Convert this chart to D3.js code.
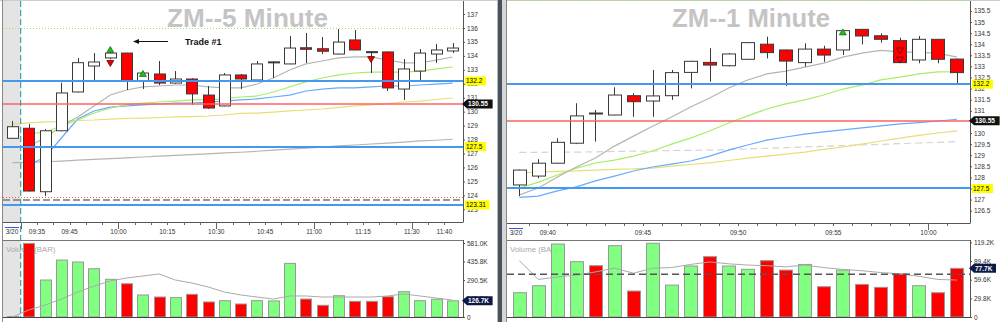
<!DOCTYPE html>
<html>
<head>
<meta charset="utf-8">
<script src="https://cdn.jsdelivr.net/npm/d3@7"></script>
<style>
  body { margin: 0; background: #fff; }
  svg { display: block; font-family: "Liberation Sans", Arial, sans-serif; }
</style>
</head>
<body>
<svg width="1000" height="322"></svg>
<script>
var svg = d3.select("svg");

// ---------- 5 minute data ----------
var leftTimes = ["09:25","09:30","09:35","09:40","09:45","09:50","09:55","10:00","10:05","10:10","10:15","10:20","10:25","10:30",
  "10:35","10:40","10:45","10:50","10:55","11:00","11:05","11:10","11:15","11:20","11:25","11:30","11:35","11:40"];
var leftOpen  = [128.09,128.81,124.26,128.63,131.41,133.27,133.85,134.2,132.2,132.7,132.05,132.34,131.19,130.41,132.63,132.27,133.54,133.42,134.58,134.51,134.13,135.14,134.3,134.28,131.62,132.91,134.13,134.35];
var leftHigh  = [129.33,129.11,128.76,132.08,133.85,134.2,134.3,134.22,132.8,133.63,132.91,132.4,131.84,132.77,132.7,133.63,133.6,135.42,135.64,135.35,135.92,135.85,134.32,134.3,133.77,134.49,134.85,134.92];
var leftLow   = [128.05,124.28,123.95,128.6,131.38,132.13,133.75,131.55,131.62,131.9,132.0,130.48,130.2,130.38,131.62,132.2,132.41,133.4,133.49,134.13,134.1,134.4,132.77,131.48,130.84,132.27,133.49,134.2];
var leftClose = [128.92,124.31,128.63,131.34,133.51,133.56,134.2,132.2,132.77,132.05,132.34,131.27,130.26,132.63,132.34,133.42,133.57,134.56,134.47,134.33,134.99,134.42,134.25,131.7,133.06,134.2,134.42,134.56];
var leftVolume = [3000,578000,290500,447000,432000,379000,296000,261000,173000,157000,152000,178000,118000,128000,102000,128000,126000,421000,141000,92000,167000,123000,123000,159000,199000,128000,139000,126700];
var leftVolAvg = [0,55000,94000,141000,196000,243000,283000,306000,322000,338000,290000,267000,236000,196000,173000,157000,141000,165000,165000,157000,157000,157000,157000,165000,181000,165000,149000,133000];
var leftAvgFast   = [null,127.54,128.11,128.97,129.62,130.41,131.19,131.55,131.77,131.84,131.91,131.91,131.77,131.7,131.7,131.98,132.41,132.99,133.42,133.63,133.85,133.92,133.92,133.7,133.49,133.49,133.7,133.92];
var leftAvgGreen  = [null,128.4,128.54,128.97,129.4,129.9,130.26,130.48,130.62,130.69,130.76,130.84,130.84,130.91,131.05,131.12,131.41,131.77,132.13,132.41,132.63,132.77,132.84,132.84,132.84,132.91,133.06,133.2];
var leftAvgBlue   = [null,126.18,126.75,128.11,129.47,130.05,130.33,130.41,130.48,130.55,130.62,130.62,130.69,130.76,130.84,130.91,131.05,131.19,131.48,131.62,131.7,131.7,131.77,131.84,131.84,131.91,131.98,132.05];
var leftAvgYellow = [129.11,129.19,129.26,129.29,129.37,129.4,129.47,129.51,129.54,129.58,129.62,129.65,129.69,129.76,129.87,129.9,129.97,130.05,130.12,130.19,130.3,130.41,130.48,130.58,130.69,130.76,130.87,130.98];
var leftAvgSlow   = [126.34,126.37,126.41,126.46,126.52,126.58,126.63,126.69,126.75,126.81,126.86,126.92,126.98,127.04,127.09,127.16,127.24,127.31,127.38,127.46,127.54,127.61,127.68,127.75,127.82,127.9,127.95,128.02];
var leftTickLabels = ["09:35","09:45","10:00","10:15","10:30","10:45","11:00","11:15","11:30","11:40"];
var leftPriceTicks = [123,124,125,126,127,128,129,130,131,132,133,134,135,136,137];
var leftVolTicks = [0,145250,290500,435750,581000];
var leftLevels = [136, 132.2, 130.55, 127.5, 123.9, 123.67, 123.31];
var leftLevelKinds = ["target","support","entry","support","stop","stop2","support"];
var leftSignalTimes = ["09:55","09:55","10:05","11:15"];
var leftSignalPrices = [134.42,133.49,132.7,133.77];
var leftSignalKinds = ["buy","sell","buy","sell"];

// ---------- 1 minute data ----------
var rightTimes = ["09:38","09:39","09:40","09:41","09:42","09:43","09:44","09:45","09:46","09:47","09:48","09:49","09:50","09:51",
  "09:52","09:53","09:54","09:55","09:56","09:57","09:58","09:59","10:00","10:01"];
var rightOpen  = [127.66,128.06,128.64,129.54,130.9,130.81,131.68,131.44,131.68,132.73,133.18,133.03,133.32,134.0,133.74,133.17,133.78,133.74,134.67,134.38,134.16,133.29,134.22,133.33];
var rightHigh  = [128.35,128.82,129.76,131.34,131.04,132.06,131.79,132.84,132.84,133.25,133.82,133.6,134.1,134.34,133.76,134.04,133.93,134.62,134.68,134.49,134.29,134.37,134.23,133.35];
var rightLow   = [127.16,127.96,128.62,129.5,129.61,130.8,130.73,130.73,131.49,132.01,132.31,133.0,133.3,133.36,132.12,132.99,133.21,133.51,133.99,134.07,133.15,133.14,133.14,132.16];
var rightClose = [128.33,128.64,129.58,130.77,130.88,131.71,131.41,131.67,132.72,133.23,133.06,133.56,134.07,133.62,133.24,133.78,133.51,134.61,134.37,134.22,133.17,134.22,133.32,132.72];
var rightVolume = [38800,50000,116600,88400,82000,114000,41500,117800,51000,81500,96400,81500,76200,90000,75000,84000,48400,75000,52000,47400,69000,50000,38800,77700];
var rightVolAvg = [90000,60000,64000,67000,72000,78000,70000,78000,79000,84000,88000,85000,83000,82000,80000,83000,79000,76000,74000,71000,69000,65000,60000,59000];
var rightAvgFast   = [127.21,127.52,128.02,128.47,128.87,129.41,129.86,130.3,130.72,131.17,131.58,132.03,132.39,132.66,132.79,132.97,133.15,133.42,133.6,133.72,133.65,133.63,133.6,133.42];
var rightAvgGreen  = [127.52,127.79,128.11,128.42,128.65,128.78,128.96,129.19,129.5,129.77,130.09,130.45,130.77,131.08,131.31,131.49,131.71,131.98,132.16,132.39,132.52,132.66,132.75,132.76];
var rightAvgBlue   = [127.1,127.16,127.39,127.57,127.84,128.06,128.29,128.47,128.6,128.74,128.96,129.23,129.46,129.68,129.82,129.95,130.05,130.14,130.23,130.32,130.41,130.47,130.54,130.62];
var rightAvgYellow = [128.21,128.24,128.27,128.29,128.33,128.36,128.38,128.42,128.51,128.58,128.65,128.76,128.87,128.96,129.05,129.14,129.26,129.37,129.5,129.64,129.77,129.89,130.0,130.1];
var rightAvgDash   = [129.13,129.13,129.14,129.14,129.15,129.17,129.18,129.19,129.21,129.22,129.23,129.26,129.28,129.31,129.34,129.37,129.4,129.43,129.46,129.49,129.52,129.55,129.58,129.61];
var rightTickLabels = ["09:40","09:45","09:50","09:55","10:00"];
var rightPriceTicks = [126.5,127,127.5,128,128.5,129,129.5,130,130.5,131,131.5,132,132.5,133,133.5,134,134.5,135,135.5];
var rightVolTicks = [0,29800,59600,89400,119200];
var rightVolLevel = 68500;
var rightLevels = [136, 132.2, 130.55, 127.5];
var rightLevelKinds = ["target","support","entry","support"];
var rightSignalTimes = ["09:55","09:58","09:58"];
var rightSignalPrices = [134.53,133.72,133.31];
var rightSignalKinds = ["buy","exit","exit"];

var levelStyle = {
  target:  { stroke: "#99dd77", width: 1, dash: "1,2" },
  support: { stroke: "#4499ee", width: 2, dash: null },
  entry:   { stroke: "#ff6060", width: 1.5, dash: null },
  stop:    { stroke: "#ff5555", width: 1, dash: "1,2" },
  stop2:   { stroke: "#777777", width: 1.5, dash: "7,3" }
};

function fmtK(d) { return d === 0 ? "0" : (d / 1000).toFixed(1) + "K"; }
function fmtPrice(d) { return d % 1 === 0 ? String(d) : d.toFixed(1); }

function tag(g, x, y, text, kind) {
  var w = text.length * 3.6 + 3;
  if (kind === "hl") {
    g.append("rect").attr("x", x + 2).attr("y", y - 4.5).attr("width", w).attr("height", 9).attr("fill", "#ffff00");
    g.append("text").attr("x", x + 3).attr("y", y + 2.3).attr("font-size", 6.5).attr("fill", "#000").text(text);
  } else {
    var fill = kind === "vol" ? "#0c1a48" : "#111";
    g.append("path")
      .attr("d", "M" + (x - 1) + "," + y + " L" + (x + 4) + "," + (y - 4.5) + " H" + (x + 5 + w) + " V" + (y + 4.5) + " H" + (x + 4) + " Z")
      .attr("fill", fill);
    g.append("text").attr("x", x + 5).attr("y", y + 2.3).attr("font-size", 6.5).attr("font-weight", "bold")
      .attr("fill", "#fff").text(text);
  }
}

function drawPanel(p) {
  var g = svg.append("g");
  var x = d3.scaleBand().domain(p.times).range(p.band);
  var bw = x.bandwidth();
  var cw = Math.round(bw * 0.68);
  var cx = function (t) { return x(t) + bw / 2; };
  var y = d3.scaleLinear().domain(p.yDomain).range(p.yRange);
  var yv = d3.scaleLinear().domain(p.vDomain).range(p.vRange);

  // clip paths
  var defs = g.append("defs");
  defs.append("clipPath").attr("id", p.id + "pc").append("rect")
    .attr("x", p.x0).attr("y", 0).attr("width", p.x1 - p.x0).attr("height", p.priceBottom);
  defs.append("clipPath").attr("id", p.id + "vc").append("rect")
    .attr("x", p.x0).attr("y", p.volTop).attr("width", p.x1 - p.x0).attr("height", p.volBottom - p.volTop);

  // pre-session shading
  if (p.sessionStart) {
    var sx = x(p.sessionStart);
    g.append("rect").attr("x", p.x0).attr("y", 1).attr("width", sx - p.x0).attr("height", p.priceBottom - 1).attr("fill", "#e4e4e4");
    g.append("rect").attr("x", p.x0).attr("y", p.volTop).attr("width", sx - p.x0).attr("height", p.volBottom - p.volTop).attr("fill", "#e4e4e4");
  }

  // title
  g.append("text").attr("x", p.titleX).attr("y", 27).attr("font-size", 25).attr("font-weight", "bold")
    .attr("fill", "#c4c4c4").attr("textLength", p.titleW).attr("lengthAdjust", "spacingAndGlyphs").text(p.title);

  var pg = g.append("g").attr("clip-path", "url(#" + p.id + "pc)");

  // moving averages
  var line = d3.line().defined(function (d) { return d.v != null; })
    .x(function (d) { return cx(d.t); }).y(function (d) { return y(d.v); });
  p.averages.forEach(function (a) {
    var pts = p.times.map(function (t, i) { return { t: t, v: a.values[i] }; });
    pg.append("path").attr("d", line(pts)).attr("fill", "none")
      .attr("stroke", a.color).attr("stroke-width", 1.2).attr("stroke-dasharray", a.dash || null);
  });

  // candles
  var bars = p.times.map(function (t, i) {
    return { t: t, o: p.open[i], h: p.high[i], l: p.low[i], c: p.close[i], v: p.volume[i] };
  });
  var cg = pg.selectAll(".candle").data(bars).enter().append("g").attr("class", "candle");
  cg.append("line")
    .attr("x1", function (d) { return Math.round(cx(d.t)) + 0.5; })
    .attr("x2", function (d) { return Math.round(cx(d.t)) + 0.5; })
    .attr("y1", function (d) { return y(d.h); })
    .attr("y2", function (d) { return y(d.l); })
    .attr("stroke", "#3a3a3a");
  cg.append("rect")
    .attr("x", function (d) { return Math.round(cx(d.t) - cw / 2) + 0.5; })
    .attr("y", function (d) { return y(Math.max(d.o, d.c)); })
    .attr("width", cw)
    .attr("height", function (d) { return Math.max(1, Math.abs(y(d.o) - y(d.c))); })
    .attr("fill", function (d) { return d.c >= d.o ? "#fff" : "#ff0000"; })
    .attr("stroke", "#3a3a3a");

  // horizontal levels
  p.levels.forEach(function (v, i) {
    var s = levelStyle[p.levelKinds[i]];
    var yy = Math.round(y(v)) + (s.width === 1 ? 0.5 : 0);
    pg.append("line").attr("x1", p.x0).attr("x2", p.x1).attr("y1", yy).attr("y2", yy)
      .attr("stroke", s.stroke).attr("stroke-width", s.width).attr("stroke-dasharray", s.dash);
  });

  // signals
  p.signalTimes.forEach(function (t, i) {
    var sx = cx(t), sy = y(p.signalPrices[i]), k = p.signalKinds[i], s = 3.5;
    var d = k === "buy"
      ? "M" + sx + "," + (sy - s) + " L" + (sx + s) + "," + (sy + s * 0.7) + " L" + (sx - s) + "," + (sy + s * 0.7) + " Z"
      : "M" + (sx - s) + "," + (sy - s * 0.7) + " L" + (sx + s) + "," + (sy - s * 0.7) + " L" + sx + "," + (sy + s) + " Z";
    pg.append("path").attr("d", d)
      .attr("fill", k === "buy" ? "#22bb22" : (k === "sell" ? "#dd0000" : "none"))
      .attr("stroke", k === "buy" ? "#117711" : "#770000").attr("stroke-width", 0.8);
  });

  // session start line
  if (p.sessionStart) {
    g.append("line").attr("x1", x(p.sessionStart)).attr("x2", x(p.sessionStart)).attr("y1", 1).attr("y2", p.volBottom)
      .attr("stroke", "#3aa6a6").attr("stroke-width", 1.2).attr("stroke-dasharray", "6,3");
  }

  // price axis
  var pa = g.append("g").attr("transform", "translate(" + p.x1 + ",0)")
    .call(d3.axisRight(y).tickValues(p.priceTicks).tickSize(2).tickPadding(2).tickFormat(p.priceFormat));
  pa.select(".domain").remove();
  pa.selectAll("text").attr("font-size", 6.5).attr("fill", "#333").attr("font-family", null);
  pa.selectAll("line").attr("stroke", "#555");
  g.append("line").attr("x1", p.x1 + 0.5).attr("x2", p.x1 + 0.5).attr("y1", 1).attr("y2", p.priceBottom).attr("stroke", "#555");
  g.append("line").attr("x1", p.x0).attr("x2", p.x1 + 0.5).attr("y1", p.priceBottom + 0.5).attr("y2", p.priceBottom + 0.5).attr("stroke", "#555");

  // time axis
  var tg = g.append("g");
  p.times.forEach(function (t, i) {
    if (i === 0) return;
    var tx = Math.round(x(t)) + 0.5;
    var long = t.slice(3) === "00" || t.slice(3) === "30";
    tg.append("line").attr("x1", tx).attr("x2", tx).attr("y1", p.priceBottom).attr("y2", p.priceBottom + (long ? 7 : 3))
      .attr("stroke", "#666");
  });
  p.tickLabels.forEach(function (t) {
    tg.append("text").attr("x", x(t)).attr("y", p.priceBottom + 12).attr("text-anchor", "middle")
      .attr("font-size", 6.5).attr("fill", "#333").text(t);
  });
  tg.append("text").attr("x", p.x0 + 9).attr("y", p.priceBottom + 12).attr("text-anchor", "middle")
    .attr("font-size", 6.5).attr("fill", "#333").text(p.dateLabel);
  tg.append("line").attr("x1", p.x0 + 2).attr("x2", p.x0 + 16).attr("y1", p.priceBottom + 5.5).attr("y2", p.priceBottom + 5.5)
    .attr("stroke", "#3355ee");

  // volume pane
  g.append("line").attr("x1", p.x0).attr("x2", p.x1 + 0.5).attr("y1", p.volTop + 0.5).attr("y2", p.volTop + 0.5).attr("stroke", "#777");
  g.append("line").attr("x1", p.x1 + 0.5).attr("x2", p.x1 + 0.5).attr("y1", p.volTop).attr("y2", p.volBottom).attr("stroke", "#555");
  g.append("line").attr("x1", p.x0).attr("x2", p.x1 + 0.5).attr("y1", p.volBottom + 0.5).attr("y2", p.volBottom + 0.5).attr("stroke", "#444");
  g.append("text").attr("x", p.x0 + 3).attr("y", p.volTop + 12).attr("font-size", 7.8).attr("fill", "#aaa").text("Volume (BAR)");

  var vg = g.append("g").attr("clip-path", "url(#" + p.id + "vc)");
  vg.selectAll(".vbar").data(bars).enter().append("rect").attr("class", "vbar")
    .attr("x", function (d) { return Math.round(cx(d.t) - cw / 2) + 0.5; })
    .attr("y", function (d) { return yv(d.v); })
    .attr("width", cw)
    .attr("height", function (d) { return yv(0) - yv(d.v); })
    .attr("fill", function (d, i) { return i === 0 && p.sessionStart ? "#333" : (d.c >= d.o ? "#80ff80" : "#ff0000"); })
    .attr("stroke", "#999");
  var vline = d3.line().x(function (d) { return cx(d.t); }).y(function (d) { return yv(d.v); });
  vg.append("path").attr("d", vline(p.times.map(function (t, i) { return { t: t, v: p.volAvg[i] }; })))
    .attr("fill", "none").attr("stroke", "#aaa").attr("stroke-width", 1);
  if (p.volLevel) {
    vg.append("line").attr("x1", p.x0).attr("x2", p.x1).attr("y1", yv(p.volLevel)).attr("y2", yv(p.volLevel))
      .attr("stroke", "#555").attr("stroke-width", 1.5).attr("stroke-dasharray", "7,4");
  }
  var va = g.append("g").attr("transform", "translate(" + p.x1 + ",0)")
    .call(d3.axisRight(yv).tickValues(p.volTicks).tickSize(2).tickPadding(2).tickFormat(fmtK));
  va.select(".domain").remove();
  va.selectAll("text").attr("font-size", 6.5).attr("fill", "#333").attr("font-family", null);
  va.selectAll("line").attr("stroke", "#555");

  // value tags
  p.levels.forEach(function (v, i) {
    var k = p.levelKinds[i];
    if (k === "support") tag(g, p.x1, y(v), String(v), "hl");
    if (k === "entry") tag(g, p.x1, y(v), String(v), "dark");
  });
  var last = p.volume[p.volume.length - 1];
  tag(g, p.x1, yv(last), (last / 1000).toFixed(1) + "K", "vol");
}

// frame
svg.append("rect").attr("x", 0).attr("y", 0).attr("width", 1000).attr("height", 322).attr("fill", "#fff");
svg.append("line").attr("x1", 0).attr("x2", 1000).attr("y1", 0.5).attr("y2", 0.5).attr("stroke", "#ccc");
svg.append("line").attr("x1", 2.5).attr("x2", 2.5).attr("y1", 0).attr("y2", 322).attr("stroke", "#888");
svg.append("rect").attr("x", 498).attr("y", 0).attr("width", 4).attr("height", 322).attr("fill", "#46525e");
svg.append("rect").attr("x", 502).attr("y", 0).attr("width", 4).attr("height", 322).attr("fill", "#d6d6d6");
svg.append("line").attr("x1", 506.5).attr("x2", 506.5).attr("y1", 0).attr("y2", 322).attr("stroke", "#888");
svg.append("line").attr("x1", 497.5).attr("x2", 497.5).attr("y1", 0).attr("y2", 322).attr("stroke", "#bbb");

drawPanel({
  id: "l", title: "ZM--5 Minute", titleX: 167, titleW: 161,
  times: leftTimes, open: leftOpen, high: leftHigh, low: leftLow, close: leftClose,
  volume: leftVolume, volAvg: leftVolAvg,
  averages: [
    { values: leftAvgSlow, color: "#b4b4b4" },
    { values: leftAvgYellow, color: "#e6df77" },
    { values: leftAvgBlue, color: "#66aaff" },
    { values: leftAvgGreen, color: "#a6ee66" },
    { values: leftAvgFast, color: "#b4b4b4" }
  ],
  x0: 3, x1: 463, band: [4.35, 460.75], priceBottom: 222, volTop: 240, volBottom: 317,
  yDomain: [123, 137], yRange: [209.3, 14], vDomain: [0, 581000], vRange: [317, 243],
  priceTicks: leftPriceTicks, priceFormat: fmtPrice, volTicks: leftVolTicks,
  tickLabels: leftTickLabels, dateLabel: "3/20", sessionStart: "09:30",
  levels: leftLevels, levelKinds: leftLevelKinds,
  signalTimes: leftSignalTimes, signalPrices: leftSignalPrices, signalKinds: leftSignalKinds
});

drawPanel({
  id: "r", title: "ZM--1 Minute", titleX: 672, titleW: 158,
  times: rightTimes, open: rightOpen, high: rightHigh, low: rightLow, close: rightClose,
  volume: rightVolume, volAvg: rightVolAvg,
  averages: [
    { values: rightAvgDash, color: "#d4d4d4", dash: "7,4" },
    { values: rightAvgYellow, color: "#e6df77" },
    { values: rightAvgBlue, color: "#66aaff" },
    { values: rightAvgGreen, color: "#a6ee66" },
    { values: rightAvgFast, color: "#b4b4b4" }
  ],
  x0: 507, x1: 970, band: [509.8, 966.5], priceBottom: 223, volTop: 240, volBottom: 317,
  yDomain: [126.5, 135.5], yRange: [210.7, 10.9], vDomain: [0, 119200], vRange: [317, 242.4],
  priceTicks: rightPriceTicks, priceFormat: fmtPrice, volTicks: rightVolTicks, volLevel: rightVolLevel,
  tickLabels: rightTickLabels, dateLabel: "3/20", sessionStart: null,
  levels: rightLevels, levelKinds: rightLevelKinds,
  signalTimes: rightSignalTimes, signalPrices: rightSignalPrices, signalKinds: rightSignalKinds
});

// trade annotation
var ann = svg.append("g");
ann.append("text").attr("x", 185).attr("y", 45).attr("font-size", 9).attr("font-weight", "bold").attr("fill", "#111").text("Trade #1");
ann.append("line").attr("x1", 168).attr("x2", 137).attr("y1", 41.5).attr("y2", 41.5).attr("stroke", "#111");
ann.append("path").attr("d", "M133,41.5 L139,39 L139,44 Z").attr("fill", "#111");
</script>
</body>
</html>
